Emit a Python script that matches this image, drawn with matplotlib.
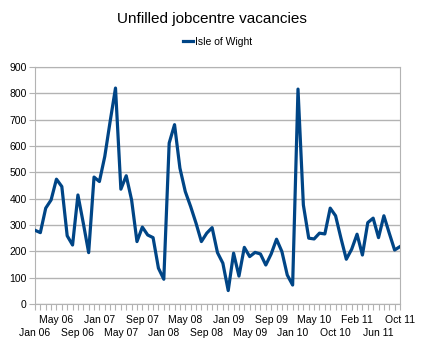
import numpy as np
import matplotlib
matplotlib.use("Agg")
import matplotlib.pyplot as plt

plt.rcParams['font.family'] = ['Liberation Sans', 'DejaVu Sans']

# monthly categories (one month missing in mid 2010 in the source)
months = []
for yr in range(6, 12):
    for m in ["Jan", "Feb", "Mar", "Apr", "May", "Jun", "Jul", "Aug", "Sep", "Oct", "Nov", "Dec"]:
        months.append(f"{m} {yr:02d}")
months = months[:months.index("Oct 11") + 1]
months.remove("Jul 10")

vacancies = [280, 271, 364, 395, 474, 446, 259, 224, 414, 307,
             195, 482, 465, 560, 693, 820, 436, 487, 395, 237,
             292, 262, 252, 136, 94, 611, 681, 516, 427, 370,
             307, 237, 269, 290, 195, 155, 51, 193, 106, 215,
             180, 196, 190, 148, 190, 246, 199, 110, 72, 816,
             376, 250, 247, 269, 266, 364, 335, 250, 170, 208,
             265, 186, 309, 326, 252, 335, 269, 205, 218]

fig = plt.figure(figsize=(4.23, 3.46), dpi=100)
ax = fig.add_axes([0.0827, 0.1214, 0.8629, 0.685])

x = np.arange(len(vacancies))
ax.plot(x, vacancies, color='#004586', lw=2.3, label='Isle of Wight',
        solid_joinstyle='round', zorder=3)

ax.set_xlim(0, len(vacancies) - 1)
ax.set_ylim(0, 900)
ax.set_yticks(range(0, 901, 100))
ax.yaxis.grid(True, color='#b3b3b3', lw=1)
ax.set_axisbelow(True)
for s in ax.spines.values():
    s.set_color('#b3b3b3')
ax.tick_params(axis='y', colors='#b3b3b3', labelcolor='black', labelsize=7.5, length=4, pad=2)

ax.set_xticks(x)
ax.set_xticklabels([])
ax.tick_params(axis='x', colors='#b3b3b3', length=4)
for k, i in enumerate(range(0, len(months), 4)):
    yoff = -0.10 if k % 2 == 0 else -0.045
    ax.text(i, yoff, months[i], transform=ax.get_xaxis_transform(),
            ha='center', va='top', fontsize=7.5)

fig.suptitle('Unfilled jobcentre vacancies', y=0.965, fontsize=11)
ax.legend(loc='center', bbox_to_anchor=(0.5, 1.105), frameon=False,
          fontsize=7.5, handlelength=0.9, handletextpad=0.2, borderaxespad=0)

plt.savefig('out.png', dpi=100)
